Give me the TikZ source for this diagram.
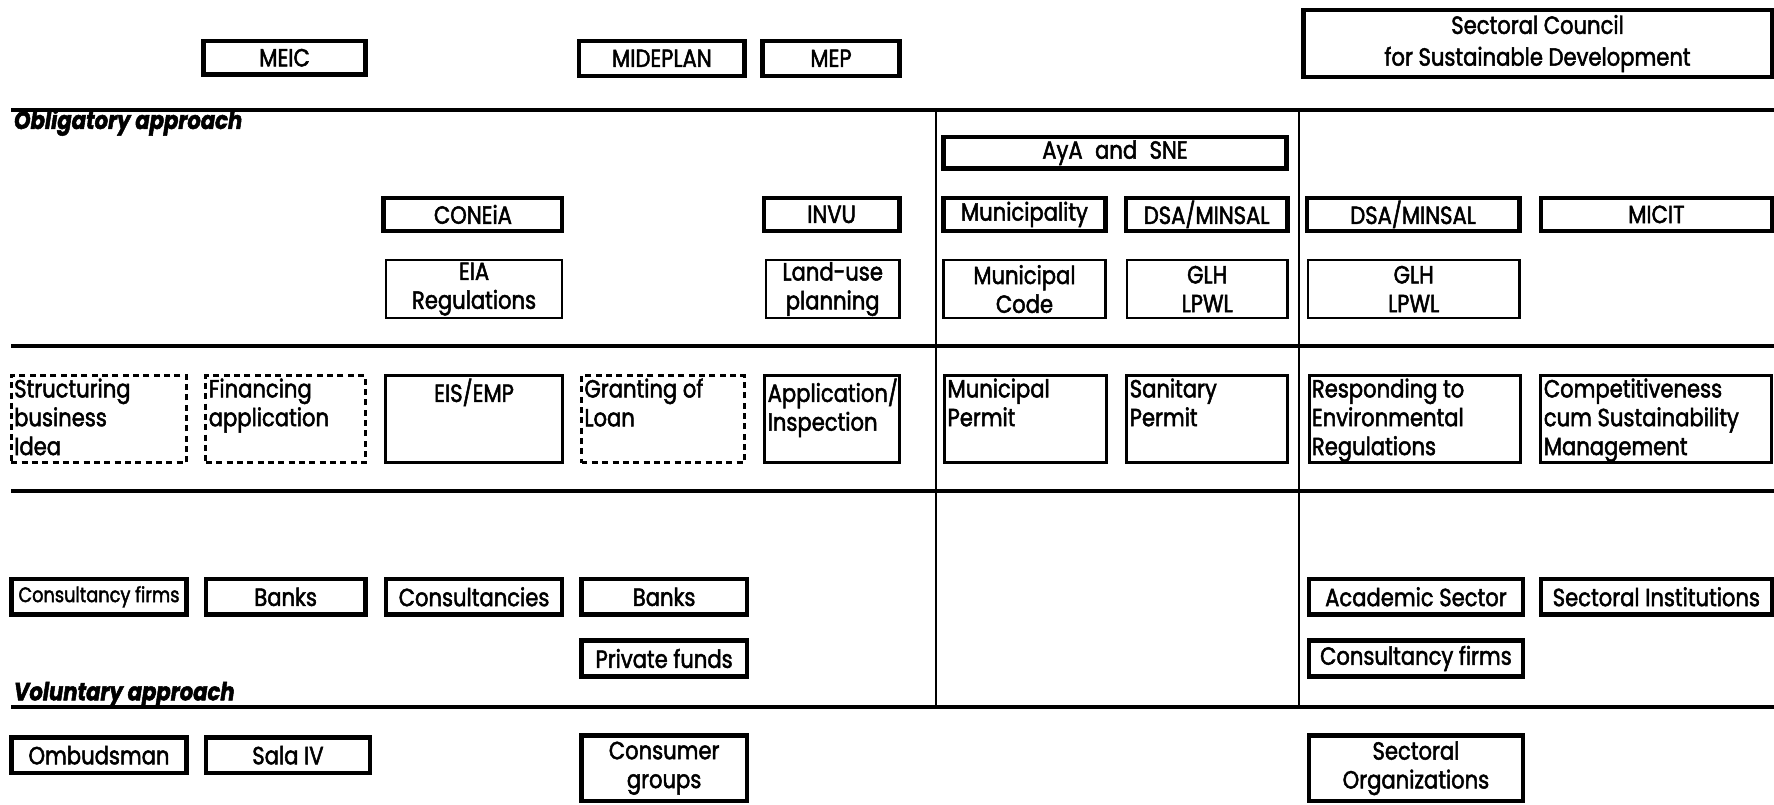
\documentclass[tikz,border=0pt]{standalone}
\usepackage{fontspec}
\setmainfont{Poppins}[FakeStretch=0.85, FakeBold=2]
\usetikzlibrary{fit}

\begin{document}
\begin{tikzpicture}[x=0.02cm, y=-0.02cm,
		font=\fontsize{12.5}{14.5}\selectfont,
		inst/.style={draw, line width=2.2pt, inner sep=0pt},
		law/.style={draw, line width=1.2pt, inner sep=0pt},
		cell/.style={align=center, inner sep=0pt},
		stepbox/.style={draw, line width=1.5pt, inner sep=0pt},
		optstep/.style={stepbox, dash pattern=on 3pt off 2.2pt},
		steptext/.style={anchor=north west, inner sep=2pt, align=left},
		rule/.style={line width=1.8pt},
		divider/.style={line width=0.9pt},
		approach/.style={anchor=base west, inner sep=0pt, font=\fontsize{12.5}{14.5}\selectfont\bfseries\itshape},
	]
	\useasboundingbox (0,0) rectangle (1568,711);

	% ministries
	\node[inst, fit={(180,36) (323,66)}, label={[cell]center:MEIC}] (meic) {};
	\node[inst, fit={(512,36) (658,67)}, label={[cell]center:MIDEPLAN}] (mideplan) {};
	\node[inst, fit={(674,36) (795,67)}, label={[cell]center:MEP}] (mep) {};
	\node[inst, fit={(1152,9) (1566,68)}, label={[cell, font=\fontsize{12.5}{16}\selectfont]center:{Sectoral Council\\for Sustainable Development}}] (council) {};

	% section rules
	\draw[rule] (10,97) -- (1568,97);
	\draw[rule] (10,306) -- (1568,306);
	\draw[rule] (10,434) -- (1568,434);
	\draw[rule] (10,625) -- (1568,625);
	\draw[divider] (827,97) -- (827,625);
	\draw[divider] (1148,97) -- (1148,625);

	\node[approach] (oblig) at (12,114) {Obligatory approach};
	\node[approach] (volun) at (12,619) {Voluntary approach};

	% authorities
	\node[inst, fit={(834,121) (1137,149)}, label={[cell]center:AyA\hspace{0.5em}and\hspace{0.5em}SNE}] (aya) {};
	\node[inst, fit={(339,175) (497,204)}, label={[cell]center:CONEiA}] (coneia) {};
	\node[inst, fit={(675,175) (795,204)}, label={[cell]center:INVU}] (invu) {};
	\node[inst, fit={(834,175) (977,204)}, label={[cell]center:Municipality}] (muni) {};
	\node[inst, fit={(995,175) (1138,204)}, label={[cell]center:DSA/MINSAL}] (dsaa) {};
	\node[inst, fit={(1155,175) (1343,204)}, label={[cell]center:DSA/MINSAL}] (dsab) {};
	\node[inst, fit={(1362,175) (1566,204)}, label={[cell]center:MICIT}] (micit) {};

	% regulations
	\node[law, fit={(341,230) (497,281)}, label={[cell]center:{EIA\\Regulations}}] (eia) {};
	\node[law, fit={(677,230) (795,281)}, label={[cell]center:{Land-use\\planning}}] (landuse) {};
	\node[law, fit={(834,230) (977,281)}, label={[cell]center:{Municipal\\Code}}] (code) {};
	\node[law, fit={(996,230) (1138,281)}, label={[cell]center:{GLH\\LPWL}}] (glha) {};
	\node[law, fit={(1156,230) (1343,281)}, label={[cell]center:{GLH\\LPWL}}] (glhb) {};

	% steps
	\node[optstep, fit={(10,332) (165,409)}, label={[steptext]north west:{Structuring\\business\\Idea}}] (idea) {};
	\node[optstep, fit={(182,332) (323,409)}, label={[steptext]north west:{Financing\\application}}] (finapp) {};
	\node[stepbox, fit={(341,332) (497,409)}, label={[steptext, anchor=north]north:{EIS/EMP}}] (eis) {};
	\node[optstep, fit={(514,332) (658,409)}, label={[steptext]north west:{Granting of\\Loan}}] (grant) {};
	\node[stepbox, fit={(676,332) (795,409)}, label={[steptext]north west:{Application/\\Inspection}}] (appl) {};
	\node[stepbox, fit={(835,332) (978,409)}, label={[steptext]north west:{Municipal\\Permit}}] (mpermit) {};
	\node[stepbox, fit={(996,332) (1138,409)}, label={[steptext]north west:{Sanitary\\Permit}}] (spermit) {};
	\node[stepbox, fit={(1157,332) (1344,409)}, label={[steptext]north west:{Responding to\\Environmental\\Regulations}}] (respond) {};
	\node[stepbox, fit={(1362,332) (1566,409)}, label={[steptext]north west:{Competitiveness\\cum Sustainability\\Management}}] (compet) {};

	% support
	\node[inst, fit={(10,512) (165,543)}, label={[cell, font=\fontsize{10.5}{12}\selectfont]center:Consultancy firms}] (consa) {};
	\node[inst, fit={(182,512) (323,543)}, label={[cell]center:Banks}] (banksa) {};
	\node[inst, fit={(341,512) (497,543)}, label={[cell]center:Consultancies}] (consb) {};
	\node[inst, fit={(514,512) (660,543)}, label={[cell]center:Banks}] (banksb) {};
	\node[inst, fit={(514,566) (660,598)}, label={[cell]center:Private funds}] (private) {};
	\node[inst, fit={(1157,512) (1346,543)}, label={[cell]center:Academic Sector}] (academic) {};
	\node[inst, fit={(1362,512) (1566,543)}, label={[cell]center:Sectoral Institutions}] (sectinst) {};
	\node[inst, fit={(1157,566) (1346,598)}, label={[cell]center:Consultancy firms}] (consc) {};

	% voluntary
	\node[inst, fit={(10,652) (165,683)}, label={[cell]center:Ombudsman}] (ombud) {};
	\node[inst, fit={(182,652) (327,683)}, label={[cell]center:Sala IV}] (sala) {};
	\node[inst, fit={(514,650) (660,708)}, label={[cell]center:{Consumer\\groups}}] (consumer) {};
	\node[inst, fit={(1157,650) (1346,708)}, label={[cell]center:{Sectoral\\Organizations}}] (sectorg) {};
\end{tikzpicture}
\end{document}
